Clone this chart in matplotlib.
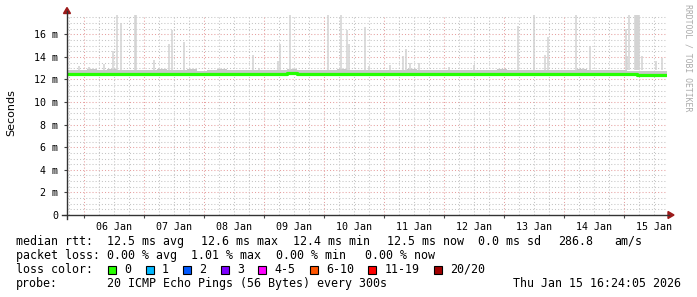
import matplotlib
matplotlib.use('Agg')
import matplotlib.pyplot as plt
from matplotlib.patches import Rectangle, Polygon
from matplotlib.lines import Line2D

# ---------------- data ----------------
# x unit: hours relative to 06 Jan 00:00
x_start, x_end = -6.8, 233.2
day_labels = ['06 Jan', '07 Jan', '08 Jan', '09 Jan', '10 Jan',
              '11 Jan', '12 Jan', '13 Jan', '14 Jan', '15 Jan']
y_tick_vals = [0, 2, 4, 6, 8, 10, 12, 14, 16]
y_tick_labels = ['0', '2 m', '4 m', '6 m', '8 m', '10 m', '12 m', '14 m', '16 m']
y_top = 17.68

# median rtt (ms), one value every 4 h from x_start
median_ms = [12.48, 12.50, 12.47, 12.50, 12.52, 12.49, 12.50, 12.46, 12.50, 12.51,
             12.48, 12.50, 12.49, 12.47, 12.50, 12.52, 12.50, 12.49, 12.51, 12.50,
             12.48, 12.50, 12.53, 12.50, 12.49, 12.51, 12.50, 12.52, 12.50, 12.49,
             12.51, 12.50, 12.50, 12.52, 12.49, 12.50, 12.51, 12.50, 12.48, 12.50,
             12.52, 12.50, 12.49, 12.50, 12.51, 12.48, 12.50, 12.52, 12.51, 12.50,
             12.49, 12.51, 12.50, 12.52, 12.50, 12.47, 12.45, 12.43, 12.42, 12.41,
             12.41]
smoke_lo = [12.32, 12.35, 12.33, 12.35, 12.36, 12.34, 12.35, 12.32, 12.35, 12.36,
            12.33, 12.35, 12.34, 12.33, 12.35, 12.36, 12.35, 12.34, 12.36, 12.35,
            12.33, 12.35, 12.37, 12.35, 12.34, 12.36, 12.35, 12.36, 12.35, 12.34,
            12.36, 12.35, 12.35, 12.36, 12.34, 12.35, 12.36, 12.35, 12.33, 12.35,
            12.36, 12.35, 12.34, 12.35, 12.36, 12.33, 12.35, 12.36, 12.36, 12.35,
            12.34, 12.36, 12.35, 12.36, 12.35, 12.32, 12.30, 12.27, 12.25, 12.25,
            12.25]
smoke_hi = [12.85, 12.80, 12.90, 12.82, 12.95, 12.80, 12.88, 12.80, 12.85, 12.92,
            12.80, 12.84, 12.90, 12.78, 12.82, 12.95, 12.85, 12.80, 12.88, 12.82,
            12.80, 12.86, 12.92, 12.80, 12.85, 12.88, 12.82, 12.90, 12.84, 12.80,
            12.88, 12.82, 12.80, 12.86, 12.90, 12.82, 12.84, 12.80, 12.88, 12.82,
            12.86, 12.80, 12.85, 12.90, 12.82, 12.80, 12.88, 12.84, 12.82, 12.86,
            12.80, 12.90, 12.84, 12.82, 12.88, 12.80, 12.78, 12.75, 12.72, 12.74,
            12.72]
# tall smoke spikes: time (h) and top (ms)
spike_t = [-2.0, 1.9, 8.1, 11.5, 13.2, 14.9, 20.5, 20.9, 28.1, 34.1, 35.0, 40.1,
           67.5, 70.0, 77.5, 78.5, 82.5, 97.5, 102.9, 105.2, 106.1, 112.5, 113.9,
           122.5, 127.6, 128.9, 130.3, 133.9, 146.0, 155.9, 173.5, 179.9, 184.5,
           185.5, 196.9, 199.5, 202.5, 216.8, 217.2, 218.0, 220.4, 220.8, 221.2,
           221.6, 222.0, 223.2, 228.9, 231.3]
spike_top = [13.2, 13.1, 13.4, 14.5, 17.7, 17.0, 17.7, 17.7, 13.7, 15.1, 16.4, 15.3,
             14.2, 13.0, 13.6, 15.1, 17.7, 17.7, 17.7, 16.4, 15.1, 16.6, 13.2,
             13.3, 14.1, 14.7, 13.5, 13.5, 13.1, 13.3, 16.7, 17.7, 14.2,
             15.8, 17.7, 13.0, 15.0, 16.5, 14.1, 17.7, 17.7, 17.7, 17.7,
             17.7, 17.7, 14.1, 13.6, 13.9]

stats_rows = [
    ['median rtt:', '12.5 ms avg', '12.6 ms max', '12.4 ms min', '12.5 ms now',
     '0.0 ms sd', '286.8', 'am/s'],
    ['packet loss:', '0.00 % avg', '1.01 % max', '0.00 % min', '0.00 % now'],
]
loss_labels = ['0', '1', '2', '3', '4-5', '6-10', '11-19', '20/20']
loss_colors = ['#26ff00', '#00b8ff', '#0059ff', '#7e00ff', '#ff00ff',
               '#ff5500', '#ff0000', '#a10000']
probe_text = '20 ICMP Echo Pings (56 Bytes) every 300s'
stamp_text = 'Thu Jan 15 16:24:05 2026'

# ---------------- layout ----------------
W, H = 697, 297
fig = plt.figure(figsize=(W / 100, H / 100), dpi=100)
fig.patch.set_facecolor('white')

def fx(x):
    return x / W

def fy(y):
    return 1 - y / H

L, R, T, B = 67, 667, 15.3, 215
ax = fig.add_axes([fx(L), fy(B), (R - L) / W, (B - T) / H])
ax.set_xlim(x_start, x_end)
ax.set_ylim(0, y_top)
for s in ax.spines.values():
    s.set_visible(False)

mono = 'DejaVu Sans Mono'
minor_c = '#c4c4c4'
major_c = '#e6a0a0'
dots = (0, (1, 2))

# grid
yv = 0.5
while yv < y_top:
    c = major_c if abs(yv / 2 - round(yv / 2)) < 1e-6 else minor_c
    ax.axhline(yv, color=c, lw=0.75, ls=dots, zorder=1)
    yv += 0.5
for h in range(-6, 234, 6):
    c = major_c if h % 24 == 0 else minor_c
    ax.axvline(h, color=c, lw=0.75, ls=dots, zorder=1)

# smoke
t_med = [x_start + 4 * i for i in range(len(median_ms))]
ax.fill_between(t_med, smoke_lo, smoke_hi, step='post', color='#c8c8c8', lw=0, zorder=2)
ax.vlines(spike_t, [12.8] * len(spike_t), spike_top, color='#d2d2d2', lw=1.1, zorder=2)
# median
ax.plot(t_med, median_ms, drawstyle='steps-post', color='#26ff00', lw=2.3,
        solid_capstyle='butt', zorder=3)

# ticks
ax.set_yticks(y_tick_vals)
ax.set_yticklabels(y_tick_labels, fontfamily=mono, fontsize=7.2)
ax.tick_params(axis='y', length=2.5, width=0.8, color='#444444', pad=4)
ax.set_xticks([12 + 24 * i for i in range(len(day_labels))])
ax.set_xticklabels(day_labels, fontfamily=mono, fontsize=7.2)
ax.tick_params(axis='x', length=0, pad=5)
ax.set_xticks([24 * i for i in range(10)], minor=True)
ax.tick_params(axis='x', which='minor', length=2.5, width=0.8, color='#444444')

# axes lines + arrows
axis_c = '#333333'
arrow_c = '#9c1a1a'
fig.add_artist(Line2D([fx(62), fx(669)], [fy(B), fy(B)], color=axis_c, lw=1.0))
fig.add_artist(Line2D([fx(L), fx(L)], [fy(219), fy(11)], color=axis_c, lw=1.0))
fig.add_artist(Polygon([(fx(L - 3.5), fy(13.5)), (fx(L + 3.5), fy(13.5)), (fx(L), fy(7.5))],
                       closed=True, color=arrow_c, transform=fig.transFigure))
fig.add_artist(Polygon([(fx(668), fy(B - 3.5)), (fx(668), fy(B + 3.5)), (fx(674), fy(B))],
                       closed=True, color=arrow_c, transform=fig.transFigure))

# labels
fig.text(fx(11), fy(113), 'Seconds', rotation=90, ha='center', va='center',
         fontsize=8, fontfamily='DejaVu Sans', color='#000000')
fig.text(fx(688), fy(4), 'RRDTOOL / TOBI OETIKER', rotation=270, ha='center', va='top',
         fontsize=5.9, fontfamily=mono, color='#aaaaaa')

fs = 8.4
row_y = [245, 259, 273, 287]
row1_x = [16, 107, 201, 293.3, 386.7, 478.3, 558.3, 614]
row2_x = [16, 107, 191, 276, 365]
for txt, x in zip(stats_rows[0], row1_x):
    fig.text(fx(x), fy(row_y[0]), txt, fontfamily=mono, fontsize=fs, va='baseline')
for txt, x in zip(stats_rows[1], row2_x):
    fig.text(fx(x), fy(row_y[1]), txt, fontfamily=mono, fontsize=fs, va='baseline')

fig.text(fx(16), fy(row_y[2]), 'loss color:', fontfamily=mono, fontsize=fs, va='baseline')
sx = 108
for lab, col in zip(loss_labels, loss_colors):
    fig.add_artist(Rectangle((fx(sx), fy(273.5)), 8 / W, 8 / H, facecolor=col,
                             edgecolor='black', lw=0.8, transform=fig.transFigure))
    lx = sx + 16.5
    fig.text(fx(lx), fy(row_y[2]), lab, fontfamily=mono, fontsize=fs, va='baseline')
    sx = lx + 7 * len(lab) + 14

fig.text(fx(16), fy(row_y[3]), 'probe:', fontfamily=mono, fontsize=fs, va='baseline')
fig.text(fx(107), fy(row_y[3]), probe_text, fontfamily=mono, fontsize=fs, va='baseline')
fig.text(fx(513), fy(row_y[3]), stamp_text, fontfamily=mono, fontsize=fs, va='baseline')

fig.savefig('out.png', dpi=100, facecolor='white')
